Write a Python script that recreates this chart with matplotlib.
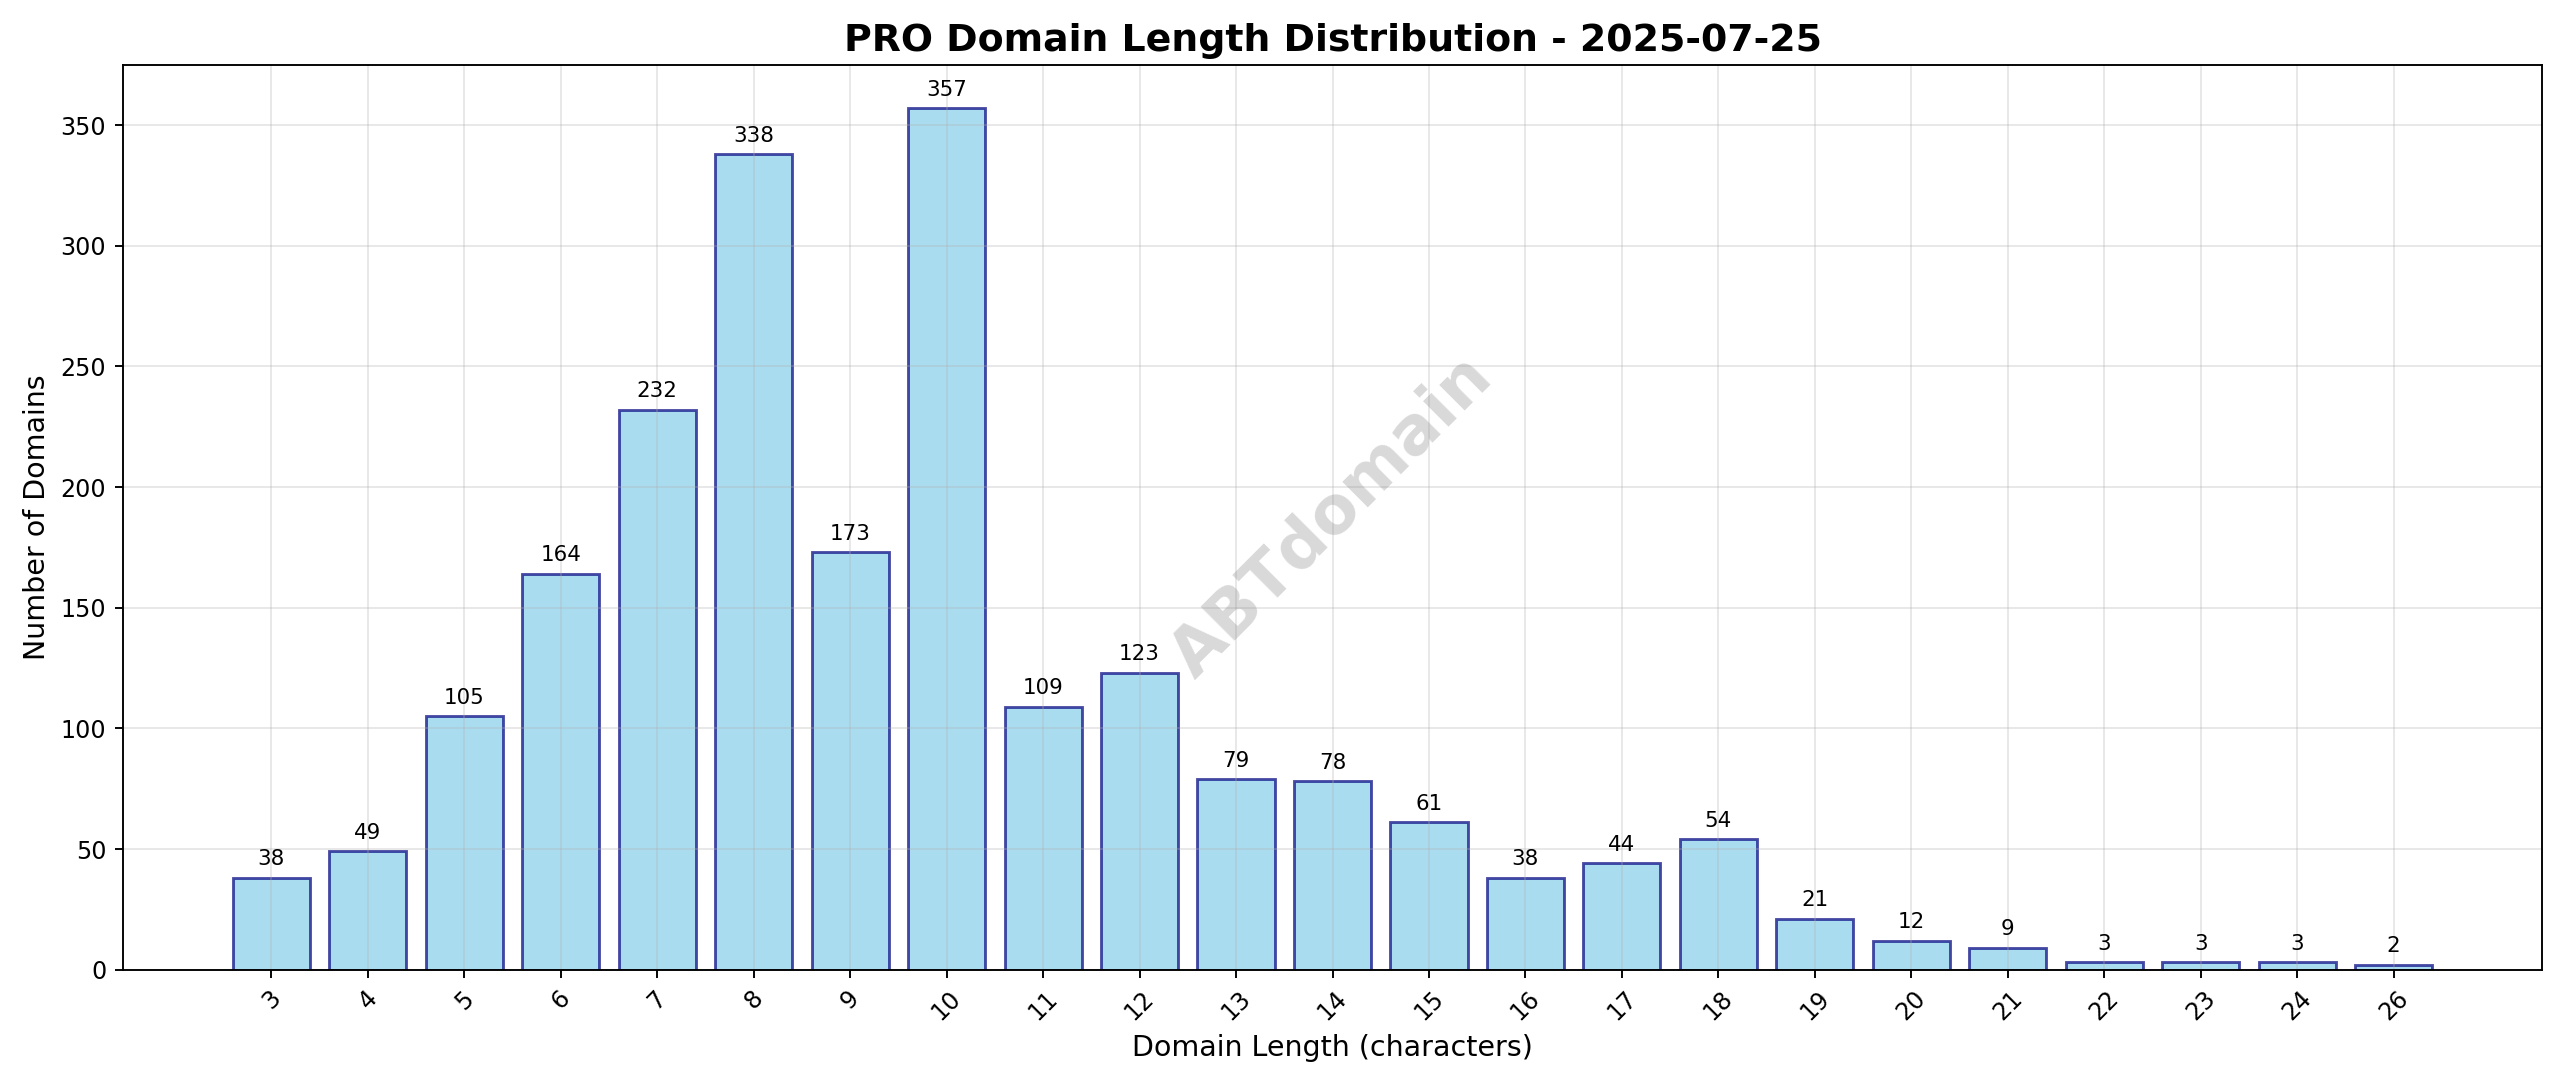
import matplotlib
matplotlib.use('Agg')
import matplotlib.pyplot as plt

lengths = ['3', '4', '5', '6', '7', '8', '9', '10', '11', '12', '13', '14', '15',
           '16', '17', '18', '19', '20', '21', '22', '23', '24', '26']
counts = [38, 49, 105, 164, 232, 338, 173, 357, 109, 123, 79, 78, 61,
          38, 44, 54, 21, 12, 9, 3, 3, 3, 2]

fig, ax = plt.subplots(figsize=(15, 6.37), dpi=170.67)
x = range(len(lengths))
bars = ax.bar(x, counts, color='skyblue', edgecolor='navy', alpha=0.7, linewidth=1.2)

for xi, c in zip(x, counts):
    ax.text(xi, c + max(counts) * 0.01, str(c), ha='center', va='bottom', fontsize=9)

ax.set_xticks(list(x))
ax.set_xticklabels(lengths, rotation=45)
ax.set_title('PRO Domain Length Distribution - 2025-07-25', fontsize=16, fontweight='bold')
ax.set_xlabel('Domain Length (characters)', fontsize=12)
ax.set_ylabel('Number of Domains', fontsize=12)
ax.grid(True, alpha=0.3)

# watermark
ax.text(0.5, 0.5, 'ABTdomain', transform=ax.transAxes, fontsize=28, fontweight='bold',
        color='gray', alpha=0.3, rotation=45, ha='center', va='center')

plt.subplots_adjust(left=0.048, right=0.993, top=0.94, bottom=0.108)
plt.savefig('out.png', dpi=170.67)
